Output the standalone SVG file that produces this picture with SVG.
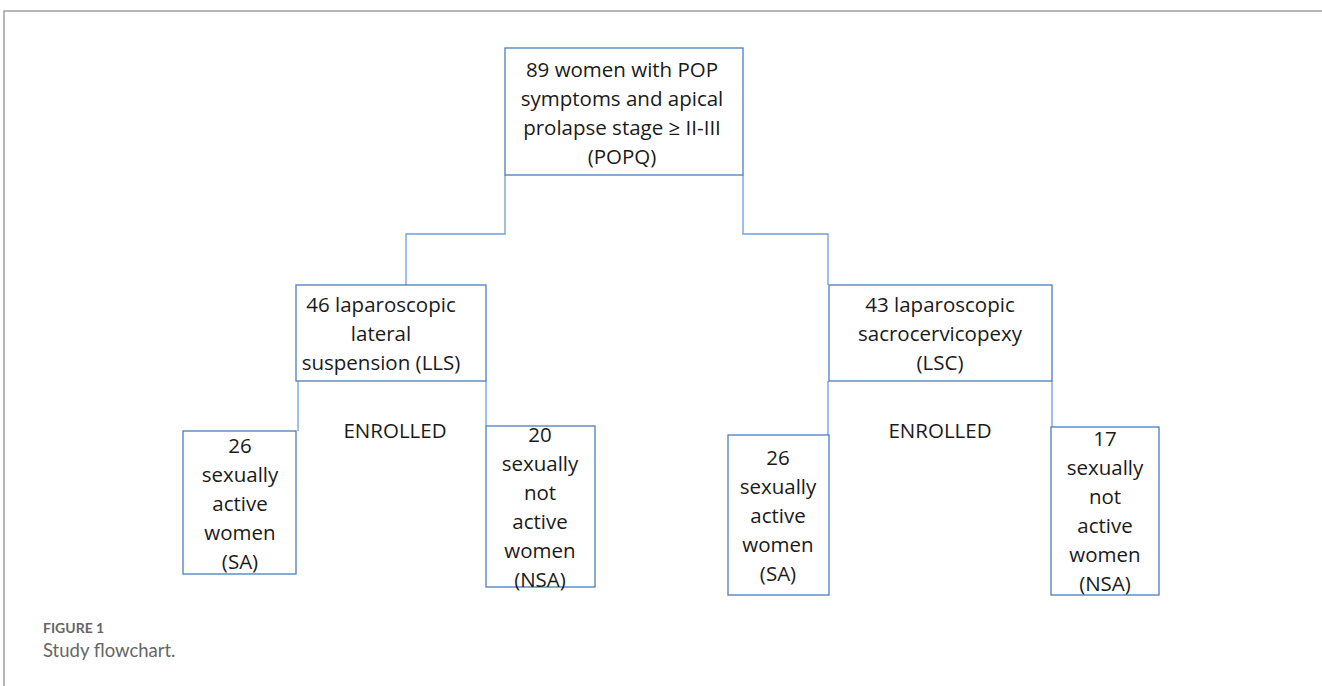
<svg xmlns="http://www.w3.org/2000/svg" width="1322" height="686" viewBox="0 0 1322 686">
<style>
.box{fill:#fff;stroke:#4a7ebb;stroke-width:1.3}
.con{fill:none;stroke:#6a9fd8;stroke-width:1.3}
.t{font-family:"Open Sans","Liberation Sans",sans-serif;font-size:20.5px;fill:#1a1a1a;text-anchor:middle}
.frame{stroke:#a0a0a0;stroke-width:1.5;fill:none}
</style>
<rect width="1322" height="686" fill="#fff"/>
<path class="frame" d="M4,686 V11 H1322"/>
<g id="connectors">
<path class="con" d="M505,175 V234 H406 V285"/>
<path class="con" d="M743,175 V234 H828 V285"/>
<path class="con" d="M298,381 V431"/>
<path class="con" d="M486,381 V426"/>
<path class="con" d="M828,381 V435"/>
<path class="con" d="M1052,381 V427"/>
</g>
<g id="n_top">
<rect class="box" x="505" y="48" width="238" height="127"/>
<text class="t" x="622" y="77">89 women with POP</text>
<text class="t" x="622" y="106">symptoms and apical</text>
<text class="t" x="622" y="135">prolapse stage ≥ II-III</text>
<text class="t" x="622" y="164">(POPQ)</text>
</g>
<g id="n_lls">
<rect class="box" x="296" y="285" width="190" height="96"/>
<text class="t" x="381" y="312">46 laparoscopic</text>
<text class="t" x="381" y="341">lateral</text>
<text class="t" x="381" y="370">suspension (LLS)</text>
</g>
<g id="n_lsc">
<rect class="box" x="829" y="285" width="223" height="96"/>
<text class="t" x="940" y="312">43 laparoscopic</text>
<text class="t" x="940" y="341">sacrocervicopexy</text>
<text class="t" x="940" y="370">(LSC)</text>
</g>
<g id="enrolled">
<text class="t" x="395" y="438">ENROLLED</text>
<text class="t" x="940" y="438">ENROLLED</text>
</g>
<g id="n_sa1">
<rect class="box" x="183" y="431" width="113" height="143"/>
<text class="t" x="240" y="453">26</text>
<text class="t" x="240" y="482">sexually</text>
<text class="t" x="240" y="511">active</text>
<text class="t" x="240" y="540">women</text>
<text class="t" x="240" y="569">(SA)</text>
</g>
<g id="n_nsa1">
<rect class="box" x="486" y="426" width="109" height="161"/>
<text class="t" x="540" y="442">20</text>
<text class="t" x="540" y="471">sexually</text>
<text class="t" x="540" y="500">not</text>
<text class="t" x="540" y="529">active</text>
<text class="t" x="540" y="558">women</text>
<text class="t" x="540" y="587">(NSA)</text>
</g>
<g id="n_sa2">
<rect class="box" x="728" y="435" width="101" height="160"/>
<text class="t" x="778" y="465">26</text>
<text class="t" x="778" y="494">sexually</text>
<text class="t" x="778" y="523">active</text>
<text class="t" x="778" y="552">women</text>
<text class="t" x="778" y="581">(SA)</text>
</g>
<g id="n_nsa2">
<rect class="box" x="1051" y="427" width="108" height="168"/>
<text class="t" x="1105" y="446">17</text>
<text class="t" x="1105" y="475">sexually</text>
<text class="t" x="1105" y="504">not</text>
<text class="t" x="1105" y="533">active</text>
<text class="t" x="1105" y="562">women</text>
<text class="t" x="1105" y="591">(NSA)</text>
</g>
<g id="caption" font-family="Lato,'Open Sans',sans-serif" fill="#666">
<text x="43" y="633" font-size="14" font-weight="bold">FIGURE 1</text>
<text x="43" y="657" font-size="18.5">Study flowchart.</text>
</g>
</svg>
